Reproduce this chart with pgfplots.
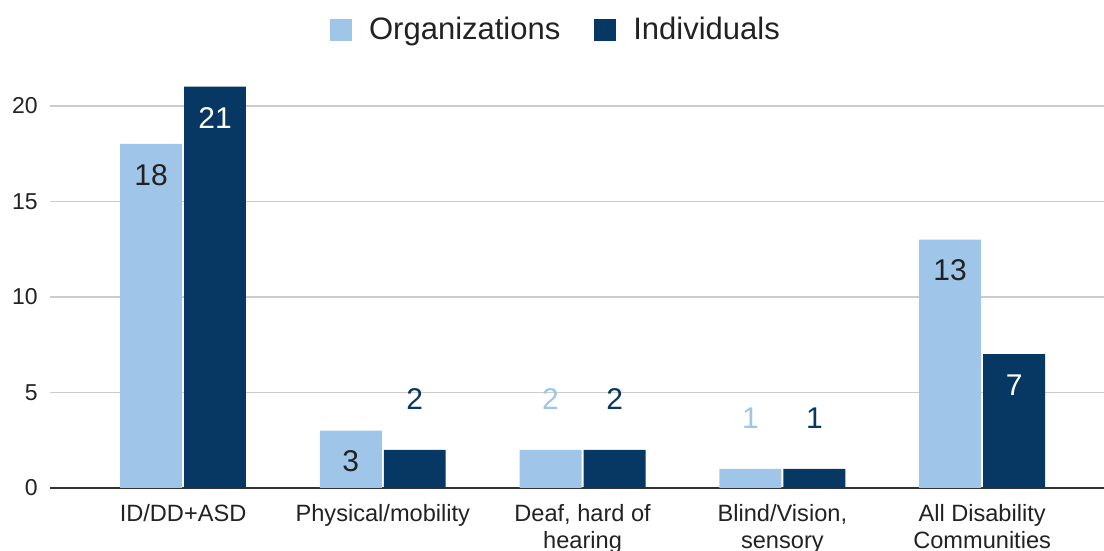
\documentclass[border=0pt]{standalone}
\usepackage{pgfplots}
\pgfplotsset{compat=1.18}
\usepackage{fontspec}
\setmainfont{Liberation Sans}
\definecolor{org}{HTML}{9FC5E8}
\definecolor{ind}{HTML}{073763}
\definecolor{txt}{HTML}{222222}
\definecolor{grd}{HTML}{CCCCCC}
\definecolor{axl}{HTML}{333333}
\begin{document}
\begin{tikzpicture}
\begin{axis}[
  at={(0,0)}, anchor=south west,
  scale only axis, width=527pt, height=215pt,
  xmin=-0.666, xmax=4.61, ymin=0, ymax=22.5,
  clip=false,
  axis x line*=bottom, axis y line*=left,
  x axis line style={color=axl, line width=0.9pt},
  y axis line style={draw=none},
  ymajorgrids, major grid style={color=grd, line width=0.8pt},
  ytick={0,5,10,15,20},
  xtick={0,1,2,3,4},
  xticklabels={ID/DD+ASD, Physical/mobility, {Deaf, hard of\\hearing}, {Blind/Vision,\\sensory}, {All Disability\\Communities}},
  major tick length=0pt,
  tick style={draw=none},
  /pgf/number format/assume math mode=true,
  yticklabel style={font=\fontsize{11.5}{13}\selectfont, text=txt, anchor=east, inner sep=0pt, xshift=-6pt},
  xticklabel style={font=\fontsize{11.8}{13.5}\selectfont, text=txt, align=center, anchor=north, inner sep=0pt, yshift=-8pt},
  legend columns=2,
  legend style={draw=none, fill=none, at={(0.481,1.065)}, anchor=center,
    font=\fontsize{15.5}{18}\selectfont, text=txt,
    /tikz/every odd column/.append style={column sep=6.5pt},
    /tikz/every even column/.append style={column sep=15pt}},
  legend image code/.code={\fill[#1] (0pt,-5.5pt) rectangle (11pt,5.5pt);},
]
\addplot[ybar, bar width=0.31, bar shift=-0.16, fill=org, draw=none] coordinates {(0,18) (1,3) (2,2) (3,1) (4,13)};
\addlegendentry{Organizations}
\addplot[ybar, bar width=0.31, bar shift=0.16, fill=ind, draw=none] coordinates {(0,21) (1,2) (2,2) (3,1) (4,7)};
\addlegendentry{Individuals}
% labels inside bars
\addplot[ybar, bar width=0.31, bar shift=-0.16, draw=none, fill=none, forget plot,
  nodes near coords, nodes near coords style={anchor=center, xshift=-16pt, yshift=-15.5pt, text=txt, font=\fontsize{15}{18}\selectfont, /pgf/number format/assume math mode=true}]
  coordinates {(0,18) (1,3) (4,13)};
\addplot[ybar, bar width=0.31, bar shift=0.16, draw=none, fill=none, forget plot,
  nodes near coords, nodes near coords style={anchor=center, xshift=16pt, yshift=-15.5pt, text=white, font=\fontsize{15}{18}\selectfont, /pgf/number format/assume math mode=true}]
  coordinates {(0,21) (4,7)};
% labels above bars
\addplot[ybar, bar width=0.31, bar shift=-0.16, draw=none, fill=none, forget plot,
  nodes near coords, nodes near coords style={anchor=center, xshift=-16pt, yshift=25.5pt, text=org, font=\fontsize{15}{18}\selectfont, /pgf/number format/assume math mode=true}]
  coordinates {(2,2) (3,1)};
\addplot[ybar, bar width=0.31, bar shift=0.16, draw=none, fill=none, forget plot,
  nodes near coords, nodes near coords style={anchor=center, xshift=16pt, yshift=25.5pt, text=ind, font=\fontsize{15}{18}\selectfont, /pgf/number format/assume math mode=true}]
  coordinates {(1,2) (2,2) (3,1)};
\end{axis}
\pgfresetboundingbox
\useasboundingbox (-25pt,-31.5pt) rectangle (527pt,244pt);
\end{tikzpicture}
\end{document}
